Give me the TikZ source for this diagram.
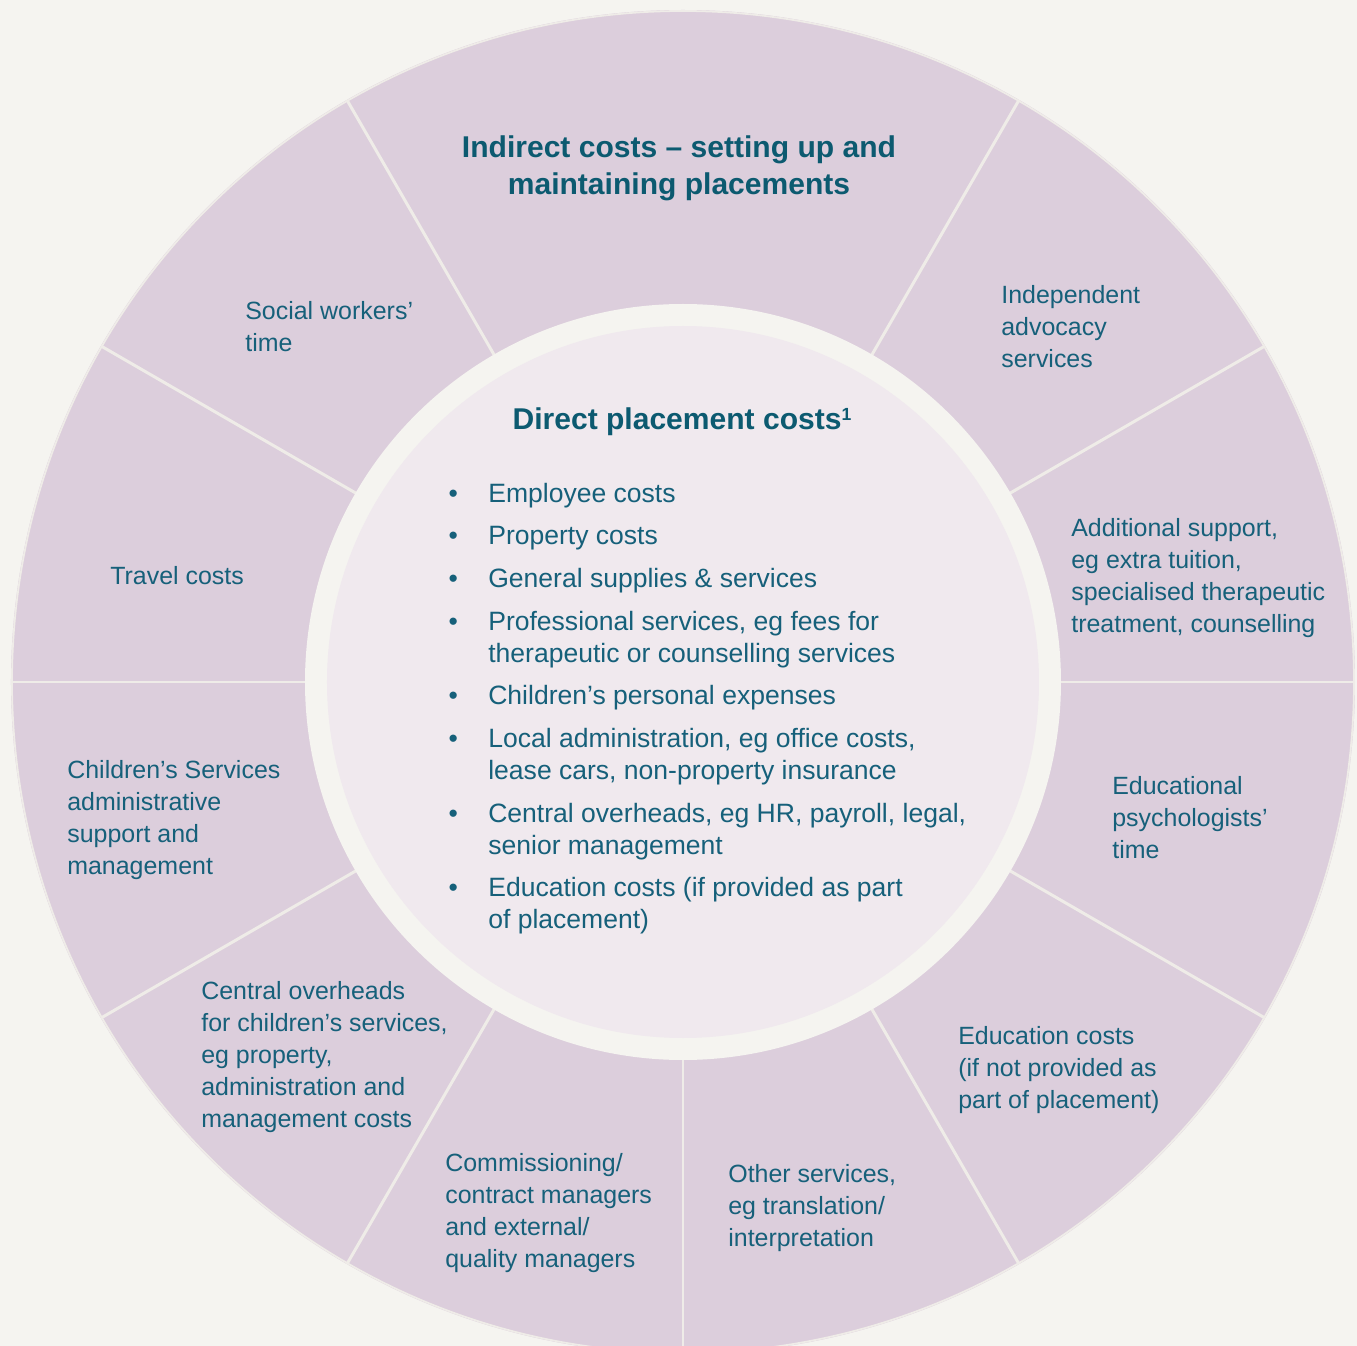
\documentclass[tikz,border=0pt]{standalone}
\usepackage{fontspec}
\setmainfont{Liberation Sans}

\definecolor{paper}{HTML}{F5F4F0}
\definecolor{mauve}{HTML}{DCCEDC}
\definecolor{rim}{HTML}{EFECE8}
\definecolor{blush}{HTML}{F0E9EE}
\definecolor{teal}{HTML}{16607A}
\definecolor{darkteal}{HTML}{0C5A70}

\newcommand{\segfont}{\fontsize{14.2pt}{18.2pt}\selectfont}
\newcommand{\listfont}{\fontsize{15.1pt}{18.2pt}\selectfont}
\newcommand{\headfont}{\fontsize{17.1pt}{21pt}\selectfont\bfseries}
\newcommand{\footmark}[1]{\raisebox{5pt}{\fontsize{10pt}{10pt}\selectfont\bfseries #1}}

\tikzset{
	divider/.style={rim, line width=1.7pt},
	seglabel/.style={anchor=west, align=left, inner sep=0pt, text=teal, font=\segfont},
	listitem/.style={anchor=west, align=left, inner sep=0pt, text=teal, font=\listfont},
	heading/.style={align=center, inner sep=0pt, text=darkteal, font=\headfont}
}

\begin{document}
\begin{tikzpicture}[x=0.02cm, y=0.02cm]
	\fill[paper] (-683,-664) rectangle (674,682);
	\useasboundingbox (-683,-664) rectangle (674,682);

	% outer ring and its segments
	\fill[mauve] (0,0) circle (672);
	\draw[rim, line width=1pt] (0,0) circle (671);
	\foreach \a in {0,30,60,120,150,180,210,240,270,300,330}
		\draw[divider] (\a:370) -- (\a:672);
	\fill[paper] (0,0) circle (378);
	\fill[blush] (0,0) circle (356);

	\node[heading] (indirect) at (-4,514) {Indirect costs -- setting up and\\maintaining placements};

	\begin{scope}[every node/.style={seglabel}]
		\node (social) at (-438,355) {Social workers'\\time};
		\node (advocacy) at (318,355) {Independent\\advocacy\\services};
		\node (travel) at (-573,106) {Travel costs};
		\node (support) at (388,104) {Additional support,\\eg extra tuition,\\specialised therapeutic\\treatment, counselling};
		\node (csadmin) at (-616,-138) {Children's Services\\administrative\\support and\\management};
		\node (psych) at (429,-136) {Educational\\psychologists'\\time};
		\node (overheads) at (-482,-375) {Central overheads\\for children's services,\\eg property,\\administration and\\management costs};
		\node (educ) at (275,-388) {Education costs\\(if not provided as\\part of placement)};
		\node (commission) at (-238,-531) {Commissioning/\\contract managers\\and external/\\quality managers};
		\node (other) at (45,-526) {Other services,\\eg translation/\\interpretation};
	\end{scope}

	% inner circle
	\node[heading] (direct) at (-1,260) {Direct placement costs\footmark{1}};
	\foreach \y/\t [count=\i] in {186/{Employee costs},
		144/{Property costs},
		101/{General supplies \& services},
		42/{Professional services, eg fees for\\therapeutic or counselling services},
		-16/{Children's personal expenses},
		-75/{Local administration, eg office costs,\\lease cars, non-property insurance},
		-150/{Central overheads, eg HR, payroll, legal,\\senior management},
		-224/{Education costs (if provided as part\\of placement)}}
		\node[listitem] (item\i) at (-195,\y) {\llap{\textbullet\hspace{1.15em}}\t};
\end{tikzpicture}
\end{document}
